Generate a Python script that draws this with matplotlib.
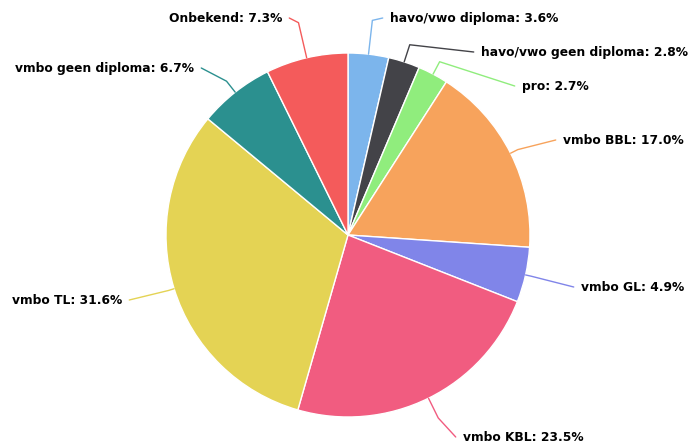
import numpy as np
import matplotlib
matplotlib.use("Agg")
import matplotlib.pyplot as plt

labels = ["havo/vwo diploma", "havo/vwo geen diploma", "pro", "vmbo BBL", "vmbo GL",
          "vmbo KBL", "vmbo TL", "vmbo geen diploma", "Onbekend"]
shares = [3.6, 2.8, 2.7, 17.0, 4.9, 23.5, 31.6, 6.7, 7.3]
colors = ["#7cb5ec", "#434348", "#90ed7d", "#f7a35c", "#8085e9",
          "#f15c80", "#e4d354", "#2b908f", "#f45b5b"]

# layout (pixels): pie centre + radius, label anchor, elbow distance beyond the rim
W, H = 689, 444
CX, CY, R = 348, 235, 182
label_px = [(390, 18), (481, 52), (522, 86), (563, 140), (581, 287),
            (463, 437), (122, 300), (194, 68), (282, 18)]
elbow_px = [34, 18, 14, 8, 6, 22, 6, 14, 36]

fig = plt.figure(figsize=(W / 100, H / 100), dpi=100)
ax = fig.add_axes([0, 0, 1, 1])

wedges, _ = ax.pie(shares, colors=colors, startangle=90, counterclock=False, radius=1,
                   wedgeprops=dict(edgecolor="white", linewidth=1))
ax.set_aspect("auto")
ax.set_xlim(-CX / R, (W - CX) / R)
ax.set_ylim(-(H - CY) / R, CY / R)
ax.axis("off")

def to_data(px, py):
    return (px - CX) / R, (CY - py) / R

for w, lab, val, c, (lx, ly), el in zip(wedges, labels, shares, colors, label_px, elbow_px):
    mid = np.deg2rad((w.theta1 + w.theta2) / 2)
    ex, ey = np.cos(mid), np.sin(mid)
    bx, by = ex * (1 + el / R), ey * (1 + el / R)
    tx, ty = to_data(lx, ly)
    right = tx > 0
    ax.plot([ex, bx, tx - (0.04 if right else -0.04)], [ey, by, ty], color=c, lw=1,
            solid_capstyle="round")
    ax.text(tx, ty, f"{lab}: {val:.1f}%", ha="left" if right else "right", va="center",
            fontsize=8.8, fontweight="bold", color="#000000")

fig.savefig("out.png", dpi=100)
